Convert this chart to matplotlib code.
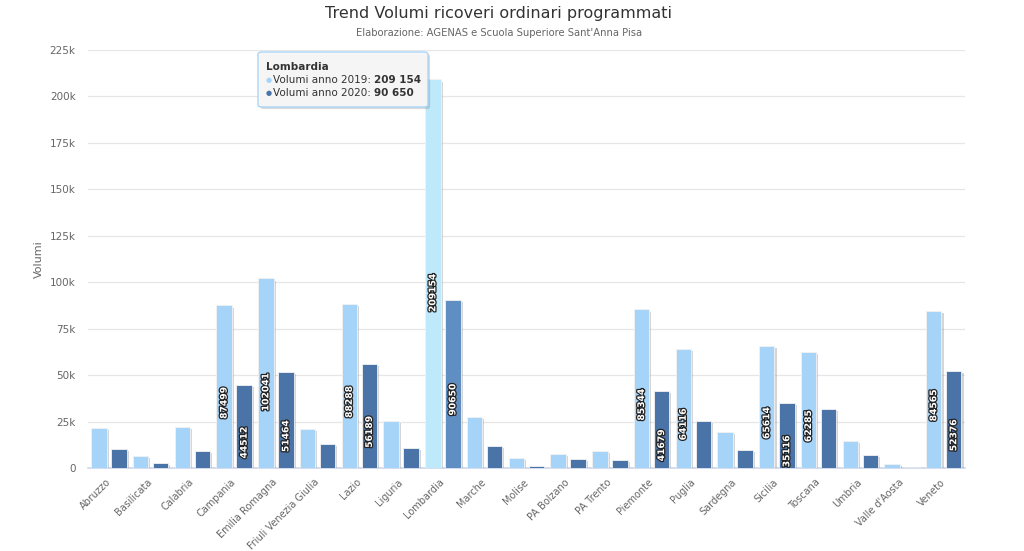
import matplotlib
matplotlib.use("Agg")
import matplotlib.pyplot as plt
import matplotlib.patheffects as pe
from matplotlib.patches import FancyBboxPatch
from matplotlib.ticker import FixedLocator
import numpy as np

regions = ["Abruzzo", "Basilicata", "Calabria", "Campania", "Emilia Romagna",
           "Friuli Venezia Giulia", "Lazio", "Liguria", "Lombardia", "Marche",
           "Molise", "PA Bolzano", "PA Trento", "Piemonte", "Puglia", "Sardegna",
           "Sicilia", "Toscana", "Umbria", "Valle d'Aosta", "Veneto"]
vol_2019 = [21500, 6500, 22000, 87499, 102041, 21000, 88288, 25300, 209154, 27400,
            5400, 7500, 9100, 85344, 64116, 19400, 65614, 62285, 14500, 2200, 84565]
vol_2020 = [10200, 2700, 9200, 44512, 51464, 12900, 56189, 10800, 90650, 11800,
            1100, 4800, 4300, 41679, 25300, 9700, 35116, 31800, 7000, 700, 52376]
yticks = [0, 25000, 50000, 75000, 100000, 125000, 150000, 175000, 200000, 225000]
ytick_labels = ["0", "25k", "50k", "75k", "100k", "125k", "150k", "175k", "200k", "225k"]
label_min = 34000
highlight = "Lombardia"

c19, c20 = "#a6d3f8", "#4a74a8"
c19_hi, c20_hi = "#bde9fb", "#5f8ec3"

fig = plt.figure(figsize=(10.24, 5.51), dpi=100)
ax = fig.add_axes([0.086, 0.1506, 0.856, 0.7586])

x = np.arange(len(regions))
w = 0.37
shadow = [pe.SimplePatchShadow(offset=(1.5, -1.5), shadow_rgbFace="#888888", alpha=0.35), pe.Normal()]

cols19 = [c19_hi if r == highlight else c19 for r in regions]
cols20 = [c20_hi if r == highlight else c20 for r in regions]
b1 = ax.bar(x - 0.24, vol_2019, w, color=cols19, edgecolor="#f2f2f2", linewidth=0.6, zorder=3)
b2 = ax.bar(x + 0.24, vol_2020, w, color=cols20, edgecolor="#f2f2f2", linewidth=0.6, zorder=3)
for b in list(b1) + list(b2):
    b.set_path_effects(shadow)

# value labels: top end of the rotated text sits at the bar's middle
stroke = [pe.withStroke(linewidth=1.8, foreground="#222222")]
for xs, vals in ((x - 0.24, vol_2019), (x + 0.24, vol_2020)):
    for xi, v in zip(xs, vals):
        if v > label_min:
            ax.text(xi, v / 2, str(v), rotation=90, rotation_mode="anchor",
                    ha="right", va="center", color="white", fontsize=6.6,
                    fontweight="bold", path_effects=stroke, zorder=5)

ax.set_xlim(-0.5, len(regions) - 0.5)
ax.set_ylim(0, 225000)
ax.yaxis.set_major_locator(FixedLocator(yticks))
ax.set_yticklabels(ytick_labels)
ax.set_xticks(x)
ax.set_xticklabels(regions, rotation=45, ha="right", va="center", rotation_mode="anchor")
ax.tick_params(axis="x", length=0, pad=9, labelsize=7, labelcolor="#666666")
ax.tick_params(axis="y", length=0, pad=9, labelsize=7.5, labelcolor="#666666")
ax.grid(axis="y", color="#e6e6e6", linewidth=0.9, zorder=0)
ax.set_axisbelow(True)
for s in ["top", "right", "left"]:
    ax.spines[s].set_visible(False)
ax.spines["bottom"].set_color("#ccd6eb")
ax.spines["bottom"].set_linewidth(1.2)
ax.set_ylabel("Volumi", fontsize=8, color="#666666", labelpad=4)

fig.text(0.487, 0.976, "Trend Volumi ricoveri ordinari programmati", ha="center", va="center",
         fontsize=11.5, color="#333333")
fig.text(0.487, 0.94, "Elaborazione: AGENAS e Scuola Superiore Sant'Anna Pisa", ha="center",
         va="center", fontsize=7.2, color="#666666")

# tooltip
tx0, ty0, tw, th = 258 / 1024, 1 - 107 / 551, 170 / 1024, 55 / 551
box = FancyBboxPatch((tx0, ty0), tw, th, boxstyle="round,pad=0,rounding_size=0.004",
                     transform=fig.transFigure, facecolor="#f7f7f7", edgecolor="#a6d3f8",
                     linewidth=1, alpha=0.95, zorder=10,
                     path_effects=[pe.SimplePatchShadow(offset=(1.5, -1.5), alpha=0.2), pe.Normal()])
fig.add_artist(box)
i = regions.index(highlight)
fig.text(266 / 1024, 1 - 67 / 551, highlight, fontsize=7.5, fontweight="bold", color="#333333",
         va="center", zorder=11)
for k, (yr, v, c) in enumerate(((2019, vol_2019[i], c19), (2020, vol_2020[i], c20))):
    yy = 1 - (80 + k * 13) / 551
    fig.text(266 / 1024, yy, "\u25cf", fontsize=5, color=c, va="center", zorder=11)
    t = fig.text(273 / 1024, yy, f"Volumi anno {yr}: ", fontsize=7.5, color="#333333",
                 va="center", zorder=11)
    fig.canvas.draw()
    bb = t.get_window_extent()
    fig.text(bb.x1 / 1024, yy, f"{v:,}".replace(",", " "), fontsize=7.5, fontweight="bold",
             color="#333333", va="center", zorder=11)

fig.savefig("out.png", dpi=100, facecolor="white")
